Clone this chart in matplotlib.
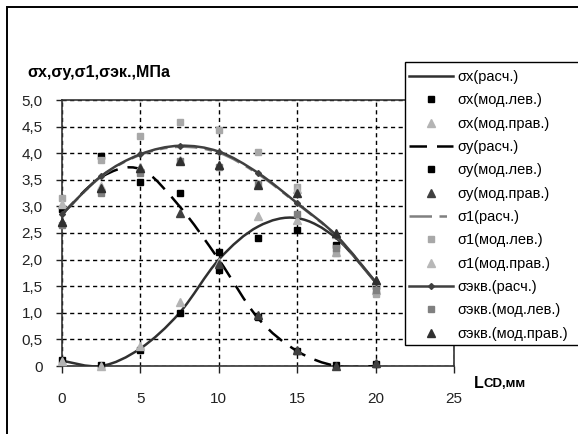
import numpy as np
import matplotlib
matplotlib.use("Agg")
import matplotlib.pyplot as plt
from matplotlib.path import Path
from matplotlib.patches import PathPatch, Rectangle
from matplotlib.lines import Line2D
from matplotlib.ticker import FuncFormatter, MultipleLocator

plt.rcParams["font.family"] = ["Liberation Sans", "DejaVu Sans"]

# distance along the sample, mm
x = [0, 2.5, 5, 7.5, 10, 12.5, 15, 17.5, 20]

sx_calc = [0.10, 0.00, 0.33, 1.00, 2.00, 2.62, 2.78, 2.40, 1.57]
sx_left = [0.12, 0.02, 0.30, 1.00, 1.80, 2.40, 2.55, 2.28, 1.50]
sx_right = [0.10, 0.00, 0.38, 1.20, 1.95, 2.82, 2.75, 2.15, 1.42]

sy_calc = [2.85, 3.55, 3.70, 3.00, 2.00, 0.90, 0.28, 0.00, 0.00]
sy_left = [2.95, 3.95, 3.45, 3.25, 2.15, 0.92, 0.28, 0.02, 0.03]
sy_right = [2.70, 3.35, 3.72, 2.87, 1.92, 0.95, 0.30, 0.00, 0.05]

s1_calc = [2.85, 3.56, 3.97, 4.12, 4.01, 3.61, 3.05, 2.44, 1.58]
s1_left = [3.15, 3.87, 4.32, 4.58, 4.43, 4.02, 3.36, 2.12, 1.35]
s1_right = [3.05, 3.38, 3.75, 3.87, 3.78, 3.43, 3.33, 2.48, 1.60]

seq_calc = [2.85, 3.57, 3.98, 4.14, 4.03, 3.63, 3.06, 2.45, 1.58]
seq_left = [2.65, 3.25, 3.62, 3.85, 3.75, 3.43, 2.85, 2.22, 1.42]
seq_right = [2.70, 3.35, 3.72, 3.85, 3.77, 3.40, 3.25, 2.50, 1.62]

labels = ["σx(расч.)", "σx(мод.лев.)", "σx(мод.прав.)",
          "σy(расч.)", "σy(мод.лев.)", "σy(мод.прав.)",
          "σ1(расч.)", "σ1(мод.лев.)", "σ1(мод.прав.)",
          "σэкв.(расч.)", "σэкв.(мод.лев.)", "σэкв.(мод.прав.)"]


def smooth_path(xs, ys):
    # cubic bezier through the points (catmull-rom style control points)
    pts = np.column_stack([xs, ys]).astype(float)
    n = len(pts)
    verts = [pts[0]]
    codes = [Path.MOVETO]
    for i in range(n - 1):
        p0 = pts[max(i - 1, 0)]
        p1, p2 = pts[i], pts[i + 1]
        p3 = pts[min(i + 2, n - 1)]
        verts += [p1 + (p2 - p0) / 6, p2 - (p3 - p1) / 6, p2]
        codes += [Path.CURVE4] * 3
    return Path(verts, codes)


W, H = 578, 434
fig = plt.figure(figsize=(W / 100, H / 100), dpi=100)
ax = fig.add_axes([62 / W, 1 - 366 / H, (454 - 62) / W, (366 - 100) / H])
ax.set_xlim(0, 25)
ax.set_ylim(0, 5)

handles = []
z = 3


def curve(ys, color, ls, lw=1.8, marker=None, ms=5):
    global z
    ax.add_patch(PathPatch(smooth_path(x, ys), fill=False, edgecolor=color,
                           linestyle=ls, lw=lw, zorder=z, capstyle="butt"))
    if marker:
        ax.plot(x, ys, ls="none", marker=marker, ms=ms, color=color, zorder=z, clip_on=False)
    z += 1
    handles.append(Line2D([], [], color=color, ls=ls, lw=lw, marker=marker, ms=ms))


def points(ys, color, marker, ms):
    global z
    ax.plot(x, ys, ls="none", marker=marker, ms=ms, color=color, zorder=z, clip_on=False)
    z += 1
    handles.append(Line2D([], [], ls="none", marker=marker, ms=ms, color=color))


curve(sx_calc, "#303030", "-")
points(sx_left, "#000000", "s", 4.5)
points(sx_right, "#b4b4b4", "^", 6)
curve(sy_calc, "#000000", (0, (7, 4)))
points(sy_left, "#000000", "s", 4.5)
points(sy_right, "#404040", "^", 6)
curve(s1_calc, "#808080", (0, (9, 3, 3, 3)))
points(s1_left, "#a8a8a8", "s", 4.5)
points(s1_right, "#b8b8b8", "^", 6)
curve(seq_calc, "#404040", "-", marker="D", ms=3)
points(seq_left, "#808080", "s", 4.5)
points(seq_right, "#303030", "^", 6)

# grid and axes
ax.xaxis.set_major_locator(MultipleLocator(5))
ax.yaxis.set_major_locator(MultipleLocator(0.5))
ax.grid(True, color="black", ls=(0, (3, 2.5)), lw=1.0)
ax.set_axisbelow(True)
for sp in ax.spines.values():
    sp.set_color("#333333")
    sp.set_linewidth(1.2)
ax.yaxis.set_major_formatter(FuncFormatter(
    lambda v, _: "0" if v == 0 else f"{v:.1f}".replace(".", ",")))
ax.tick_params(axis="x", direction="out", length=5, width=1, pad=14,
               labelsize=11, colors="#222222")
ax.tick_params(axis="y", direction="out", length=4, width=1, pad=10,
               labelsize=11, colors="#222222")

# outer frame of the chart
fig.patches.append(Rectangle((7 / W, -0.2), 1.2, 1.2 - 7 / H, transform=fig.transFigure,
                             fill=False, ec="black", lw=1.4, zorder=1))
# legend box (runs past the right edge)
fig.patches.append(Rectangle((405 / W, 1 - 345 / H), 0.5, (345 - 62) / H,
                             transform=fig.transFigure, fc="white", ec="black",
                             lw=1.0, zorder=3))
leg = fig.legend(handles, labels, loc="upper left", bbox_to_anchor=(409 / W, 1 - 70 / H),
                 frameon=False, fontsize=10.5, handlelength=3.0, handletextpad=0.3,
                 labelspacing=0.64, borderpad=0, borderaxespad=0)
leg.set_zorder(4)

fig.text(27 / W, 1 - 73 / H, "σx,σy,σ1,σэк.,МПа", fontsize=11.5, fontweight="bold",
         ha="left", va="center")
fig.text(474 / W, 1 - 383 / H, "L", fontsize=11.5, fontweight="bold", ha="left", va="center")
fig.text(484 / W, 1 - 384 / H, "CD,мм", fontsize=9.5, fontweight="bold", ha="left", va="center")

fig.savefig("out.png", dpi=100)
